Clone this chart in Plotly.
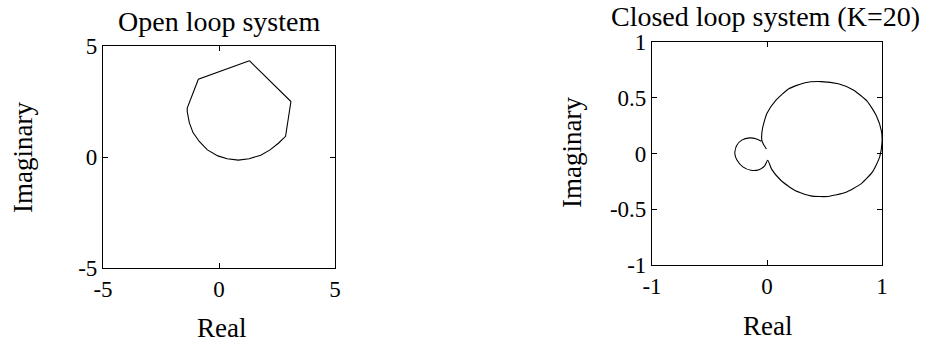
import plotly.graph_objects as go

# Open loop Nyquist curve
open_re = [1.31, 3.10, 2.87, 2.56, 2.20, 1.80, 1.30, 0.83, 0.35, -0.05, -0.50, -0.85,
           -1.12, -1.28, -1.37, -1.37, -0.89, 1.31]
open_im = [4.34, 2.50, 0.93, 0.62, 0.32, 0.08, -0.08, -0.14, -0.08, 0.05, 0.32, 0.70,
           1.10, 1.55, 2.05, 2.20, 3.50, 4.34]

# Closed loop Nyquist curve (K=20)
closed_re = [-0.005, -0.03, -0.045, -0.04, 0.0, 0.08, 0.19, 0.33, 0.47, 0.62, 0.75, 0.87,
             0.95, 0.995, 1.0, 0.98, 0.92, 0.82, 0.68, 0.53, 0.38, 0.24, 0.12, 0.04, 0.006,
             -0.02, -0.07, -0.14, -0.21, -0.26, -0.28, -0.265, -0.22, -0.15, -0.09, -0.05]
closed_im = [0.04, 0.08, 0.12, 0.22, 0.36, 0.48, 0.58, 0.635, 0.645, 0.625, 0.57, 0.47,
             0.34, 0.20, 0.10, -0.03, -0.16, -0.27, -0.35, -0.385, -0.38, -0.33, -0.24, -0.14, -0.06,
             -0.11, -0.145, -0.15, -0.12, -0.06, 0.0, 0.07, 0.12, 0.14, 0.13, 0.11]

open_ticks = [-5, 0, 5]
open_ticktext = ["-5", "0", "5"]
closed_xticks = [-1, 0, 1]
closed_xticktext = ["-1", "0", "1"]
closed_yticks = [-1, -0.5, 0, 0.5, 1]
closed_yticktext = ["-1", "-0.5", "0", "0.5", "1"]

titles = ["Open loop system", "Closed loop system (K=20)"]

FONT = "Liberation Serif"
W, H = 926, 344


def fx(px):
    return px / W


def fy(py):
    return 1 - py / H


fig = go.Figure()
fig.add_trace(go.Scatter(x=open_re, y=open_im, mode="lines",
                         line=dict(color="black", width=1.1), xaxis="x", yaxis="y",
                         showlegend=False, hoverinfo="skip"))
fig.add_trace(go.Scatter(x=closed_re, y=closed_im, mode="lines",
                         line=dict(color="black", width=1.1, shape="spline", smoothing=0.6),
                         xaxis="x2", yaxis="y2", showlegend=False, hoverinfo="skip"))

axis_common = dict(showline=True, linecolor="black", linewidth=1.2, mirror="ticks",
                   ticks="inside", ticklen=5, tickcolor="black", tickwidth=1,
                   showgrid=False, zeroline=False, automargin=False,
                   tickfont=dict(family=FONT, size=23, color="black"))

fig.update_layout(
    width=W, height=H, autosize=False,
    margin=dict(l=0, r=0, t=0, b=0, autoexpand=False),
    paper_bgcolor="white", plot_bgcolor="white",
    xaxis=dict(domain=[fx(103), fx(335)], range=[-5, 5], tickvals=open_ticks,
               ticktext=open_ticktext, anchor="y", **axis_common),
    yaxis=dict(domain=[fy(268), fy(46)], range=[-5, 5], tickvals=open_ticks,
               ticktext=open_ticktext, anchor="x", **axis_common),
    xaxis2=dict(domain=[fx(652), fx(882)], range=[-1, 1], tickvals=closed_xticks,
                ticktext=closed_xticktext, anchor="y2", **axis_common),
    yaxis2=dict(domain=[fy(265), fy(42)], range=[-1, 1], tickvals=closed_yticks,
                ticktext=closed_yticktext, anchor="x2", **axis_common),
)


def ann(text, px, py, size, angle=0):
    return dict(text=text, x=fx(px), y=fy(py), xref="paper", yref="paper",
                showarrow=False, xanchor="center", yanchor="middle", textangle=angle,
                font=dict(family=FONT, size=size, color="black"))


fig.update_layout(annotations=[
    ann(titles[0], 219, 21, 28),
    ann(titles[1], 765, 17, 28),
    ann("Imaginary", 23, 158, 27, -90),
    ann("Imaginary", 572, 153, 27, -90),
    ann("Real", 221, 328, 27),
    ann("Real", 767, 326, 27),
])

fig.write_html("out.html", config={"displayModeBar": False},
               post_script="document.body.style.margin='0px';document.body.style.overflow='hidden';")
